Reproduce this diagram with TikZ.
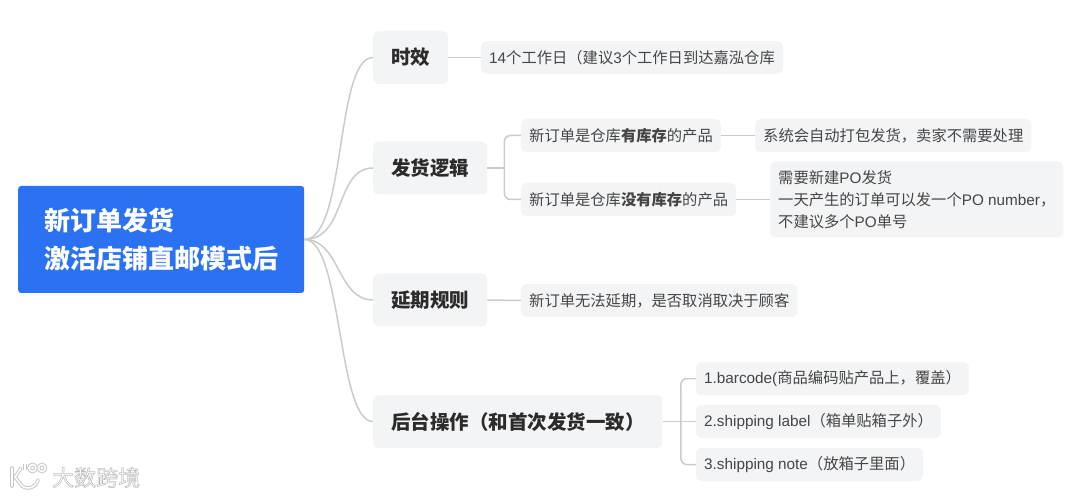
\documentclass[tikz,border=0pt]{standalone}
\usepackage{fontspec}
\setmainfont{Noto Sans CJK SC}
\newfontfamily\lat{Liberation Sans}
\usetikzlibrary{calc}
\definecolor{boxgray}{HTML}{F3F4F6}
\definecolor{linegray}{HTML}{CBCBCB}
\definecolor{inkgray}{HTML}{454545}
\definecolor{inkdark}{HTML}{2B2B2B}
\definecolor{rootblue}{HTML}{2A72F2}
\newcommand{\markfont}{\fontsize{22}{22}\selectfont}
\newcommand{\halotext}[1]{\special{pdf:code q 2 Tr 0.6 w 0.74 G 1 g}#1\special{pdf:code Q}}
\tikzset{
rootbox/.style={fill=rootblue,rounded corners=3pt,text=white,align=left,font=\fontsize{26}{38}\selectfont\bfseries,inner xsep=26pt,minimum height=107pt,anchor=west},
topic/.style={fill=boxgray,rounded corners=5pt,text=inkdark,font=\fontsize{19.5}{24}\selectfont\bfseries,inner xsep=18pt,minimum height=53pt,anchor=west},
leaf/.style={fill=boxgray,rounded corners=5pt,text=inkgray,align=left,font=\fontsize{15.3}{22}\selectfont,inner xsep=8pt,minimum height=33pt,anchor=west},
branch/.style={draw=linegray,line width=1.5pt,rounded corners=6pt},
curve/.style={draw=linegray,line width=1.5pt}}

\begin{document}
\begin{tikzpicture}[x=1pt,y=-1pt]
\useasboundingbox (0,0) rectangle (1080,497);
\node[rootbox] (root) at (18,239.5){新订单发货\\激活店铺直邮模式后};
\node[topic] (timing) at (373,57.5){时效};
\node[topic] (logic) at (373,168){发货逻辑};
\node[topic] (delay) at (373,300){延期规则};
\node[topic] (backend) at (373,421.5){后台操作（和首次发货一致）};
\node[leaf] (timingnote) at (481,57.5){{\lat 14}个工作日（建议{\lat 3}个工作日到达嘉泓仓库};
\node[leaf] (stockyes) at (521,135.5){新订单是仓库\textbf{有库存}的产品};
\node[leaf] (stockno) at (521,199.5){新订单是仓库\textbf{没有库存}的产品};
\node[leaf] (autopack) at (755,135.5){系统会自动打包发货，卖家不需要处理};
\node[leaf,minimum height=76pt] (newpo) at (770,199.5){需要新建{\lat PO}发货\\一天产生的订单可以发一个{\lat PO number}，\\不建议多个{\lat PO}单号};
\node[leaf] (delaynote) at (521,300.5){新订单无法延期，是否取消取决于顾客};
\node[leaf] (barcode) at (696,378.5){{\lat 1.barcode(}商品编码贴产品上，覆盖）};
\node[leaf] (shiplabel) at (696,421.5){{\lat 2.shipping label}（箱单贴箱子外）};
\node[leaf] (shipnote) at (696,464.5){{\lat 3.shipping note}（放箱子里面）};
\foreach \dest/\bendA/\bendB in {timing/42/-38,logic/42/-38,delay/36/-36,backend/38/-36}
\draw[curve] (root.east)..controls +(\bendA,0) and +(\bendB,0)..(\dest.west);
\draw[curve] (timing.east)--(timingnote.west);
\draw[curve] (delay.east)--(delaynote.west);
\draw[curve] (stockyes.east)--(autopack.west);
\draw[curve] (stockno.east)--(newpo.west);
\coordinate (logicfork) at ($(logic.east)+(17,0)$);
\coordinate (backendfork) at ($(backend.east)+(18,0)$);
\draw[curve] (logic.east)--(logicfork);
\draw[branch] (stockyes.west)-|(logicfork)|-(stockno.west);
\draw[curve] (backend.east)--(shiplabel.west);
\draw[branch] (barcode.west)-|(backendfork)|-(shipnote.west);
\node[font=\markfont,anchor=west,inner sep=0pt] (mark) at (52,477.5){\halotext{大数跨境}};
\foreach \shade/\wid in {black!22/3.6pt,white/1.6pt}{
\draw[\shade,line width=\wid,line cap=round] (12,468)--(12,486);
\draw[\shade,line width=\wid,line cap=round] (21,468)--(15,477)--(22,486)..controls (28,490) and (36,488)..(38,480);
\draw[\shade,line width=\wid] (25,470)--(25,464);
\draw[\shade,line width=\wid] (32.5,468) circle(3.5);
\draw[\shade,line width=\wid] (42,468) circle(3.5);}
\end{tikzpicture}
\end{document}
